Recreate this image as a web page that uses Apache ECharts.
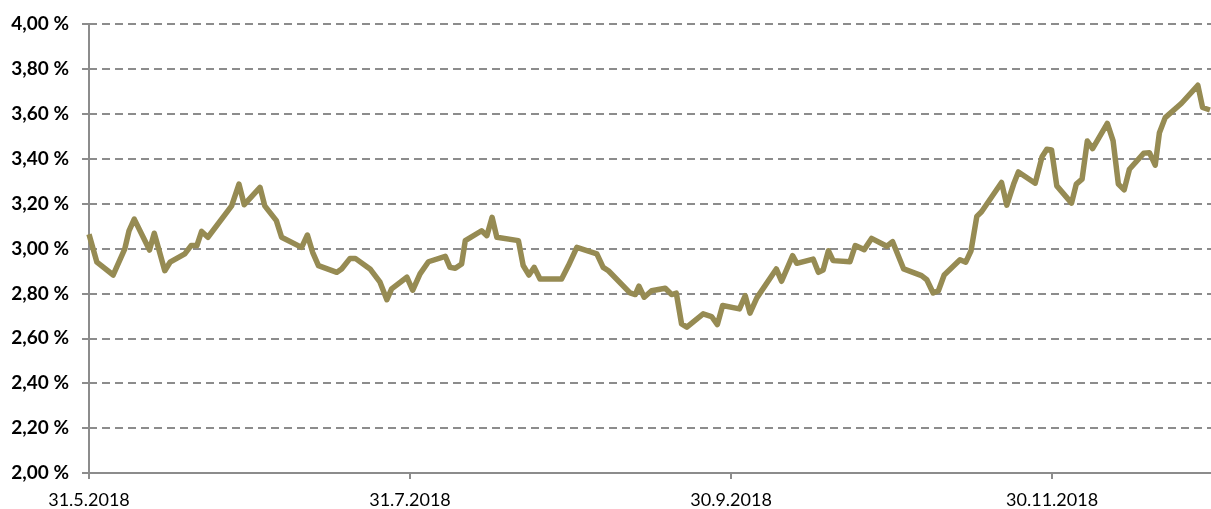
<!DOCTYPE html>
<html>
<head>
<meta charset="utf-8">
<script src="https://cdn.jsdelivr.net/npm/echarts@6/dist/echarts.min.js"></script>
<style>
html,body{margin:0;padding:0;background:#fff;}
#chart{width:1211px;height:509px;}
</style>
</head>
<body>
<div id="chart"></div>
<script>
// Days after 31.5.2018
const days = [0,1.5,4.6,6.8,7.6,8.6,11.5,12.4,13.3,14.4,15.4,18.2,19.4,20.5,21.4,22.6,27.1,28.5,29.5,32.5,33.4,
  35.6,36.6,40.4,41.5,42.5,43.6,47.1,48.0,49.6,50.6,53.4,55.3,56.6,57.5,60.4,61.5,62.9,64.5,67.7,68.6,69.6,70.8,
  71.5,74.6,75.6,76.6,77.5,81.6,82.5,83.6,84.6,85.7,89.8,91.1,92.7,96.5,97.7,98.7,102.8,103.8,104.5,105.5,
  106.9,109.5,110.7,111.6,112.6,113.6,116.7,118.3,119.4,120.4,123.6,124.7,125.6,126.9,130.6,131.6,133.7,134.5,
  137.6,138.6,139.5,140.5,141.4,144.6,145.6,147.3,148.7,151.6,152.7,154.8,158.2,159.2,160.4,161.4,162.5,165.5,
  166.6,167.6,168.7,169.6,173.4,174.4,175.7,176.6,179.8,181.1,182.0,182.9,183.9,186.7,187.6,188.7,189.7,190.7,
  193.5,194.6,195.6,196.7,197.7,200.4,201.5,202.6,203.4,204.5,207.6,210.7,211.6,213.0];
// Yield in %
const yields = [3.064,2.939,2.882,2.998,3.079,3.131,2.993,3.068,2.993,2.901,2.939,2.976,3.013,3.013,3.076,3.05,3.19,3.287,3.195,3.272,3.19,
  3.124,3.05,3.005,3.06,2.983,2.924,2.894,2.909,2.956,2.956,2.909,2.85,2.772,2.82,2.872,2.814,2.887,2.941,2.965,2.916,2.912,2.931,
  3.035,3.079,3.057,3.139,3.05,3.035,2.924,2.882,2.916,2.864,2.864,2.924,3.005,2.976,2.916,2.901,2.802,2.795,2.832,2.783,
  2.812,2.823,2.795,2.801,2.664,2.650,2.709,2.697,2.661,2.746,2.731,2.790,2.712,2.780,2.909,2.854,2.968,2.934,
  2.953,2.894,2.904,2.990,2.946,2.941,3.013,2.995,3.045,3.010,3.030,2.909,2.879,2.861,2.802,2.812,2.882,2.950,
  2.939,2.990,3.143,3.164,3.294,3.193,3.287,3.341,3.291,3.409,3.442,3.439,3.279,3.202,3.287,3.309,3.479,3.445,
  3.557,3.479,3.287,3.261,3.353,3.424,3.427,3.371,3.516,3.583,3.647,3.727,3.628,3.617];
const startDate = Date.UTC(2018, 4, 31);
const xTickStep = 61;
const yMin = 2, yMax = 4, yStep = 0.2;

const chart = echarts.init(document.getElementById('chart'), null, {renderer: 'canvas'});
const axisColor = '#8c8c8c';
chart.setOption({
  animation: false,
  backgroundColor: '#ffffff',
  grid: {left: 89, right: 0, top: 24, bottom: 35, containLabel: false},
  xAxis: {
    type: 'value', min: 0, max: 213.2, interval: xTickStep,
    axisLine: {show: true, onZero: false, lineStyle: {color: axisColor, width: 2}},
    axisTick: {show: true, length: 6, lineStyle: {color: axisColor, width: 2}},
    splitLine: {show: false},
    axisLabel: {
      showMaxLabel: false, margin: 18,
      fontFamily: 'Lato', fontSize: 18, color: '#000',
      formatter: function (v) {
        if (Math.abs(v % xTickStep) > 1e-6) return '';
        const d = new Date(startDate + v * 86400000);
        return d.getUTCDate() + '.' + (d.getUTCMonth() + 1) + '.' + d.getUTCFullYear();
      }
    }
  },
  yAxis: {
    type: 'value', min: yMin, max: yMax, interval: yStep,
    axisLine: {show: true, lineStyle: {color: axisColor, width: 2}},
    axisTick: {show: true, length: 7, lineStyle: {color: axisColor, width: 2}},
    splitLine: {show: true, lineStyle: {color: axisColor, width: 2, type: [8, 5]}},
    axisLabel: {
      margin: 20, fontFamily: 'Lato', fontWeight: 'bold', fontSize: 19, color: '#000',
      formatter: function (v) { return v.toFixed(2).replace('.', ',') + ' %'; }
    }
  },
  series: [{
    type: 'line',
    data: days.map((d, i) => [d, yields[i]]),
    showSymbol: false,
    lineStyle: {color: '#968b53', width: 5.5, join: 'round'},
    itemStyle: {color: '#968b53'}
  }]
});
</script>
</body>
</html>
